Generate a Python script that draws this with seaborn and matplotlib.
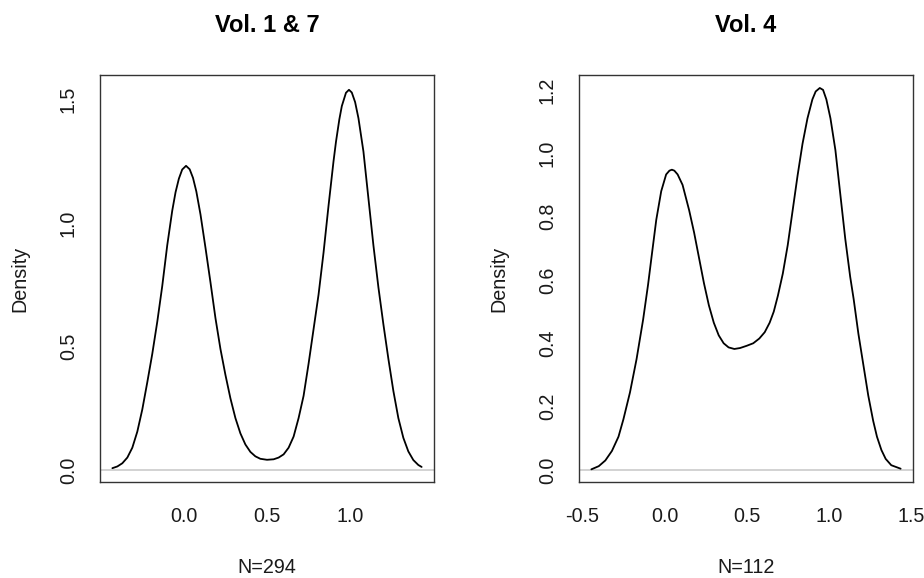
import matplotlib
matplotlib.use("Agg")
import matplotlib.pyplot as plt
import seaborn as sns

# ---- data (density curves) ----
left_title = "Vol. 1 & 7"
left_n = "N=294"
left_x = [-0.43, -0.40, -0.37, -0.34, -0.31, -0.28, -0.25, -0.22, -0.19, -0.16,
          -0.13, -0.10, -0.07, -0.05, -0.03, -0.01, 0.013, 0.035, 0.055, 0.075,
          0.10, 0.13, 0.16, 0.19, 0.22, 0.25, 0.28, 0.31, 0.34, 0.37,
          0.40, 0.43, 0.46, 0.50, 0.54, 0.57, 0.60, 0.63, 0.66, 0.69,
          0.72, 0.75, 0.78, 0.81, 0.84, 0.87, 0.90, 0.915, 0.935, 0.95,
          0.975, 0.993, 1.01, 1.03, 1.05, 1.08, 1.11, 1.14, 1.17, 1.20,
          1.23, 1.26, 1.29, 1.32, 1.35, 1.38, 1.41, 1.43]
left_y = [0.007, 0.014, 0.027, 0.05, 0.09, 0.155, 0.245, 0.355, 0.47, 0.60,
          0.745, 0.91, 1.05, 1.125, 1.18, 1.217, 1.232, 1.218, 1.183, 1.128,
          1.035, 0.90, 0.76, 0.615, 0.49, 0.385, 0.29, 0.21, 0.148, 0.103,
          0.073, 0.055, 0.045, 0.041, 0.043, 0.05, 0.063, 0.09, 0.135, 0.21,
          0.30, 0.43, 0.57, 0.71, 0.88, 1.07, 1.25, 1.33, 1.42, 1.474,
          1.528, 1.54, 1.529, 1.49, 1.425, 1.29, 1.10, 0.91, 0.74, 0.59,
          0.45, 0.32, 0.21, 0.13, 0.075, 0.04, 0.02, 0.012]
left_xticks = [0.0, 0.5, 1.0]
left_xticklabels = ["0.0", "0.5", "1.0"]
left_yticks = [0.0, 0.5, 1.0, 1.5]
left_yticklabels = ["0.0", "0.5", "1.0", "1.5"]
left_ylim = [-0.049, 1.60]

right_title = "Vol. 4"
right_n = "N=112"
right_x = [-0.445, -0.40, -0.36, -0.32, -0.28, -0.25, -0.21, -0.17, -0.13, -0.10,
           -0.077, -0.05, -0.02, 0.01, 0.03, 0.045, 0.06, 0.08, 0.11, 0.15,
           0.18, 0.21, 0.24, 0.27, 0.30, 0.33, 0.36, 0.39, 0.425, 0.46,
           0.50, 0.54, 0.577, 0.61, 0.64, 0.665, 0.69, 0.72, 0.75, 0.78,
           0.81, 0.84, 0.87, 0.90, 0.92, 0.945, 0.965, 0.985, 1.01, 1.04,
           1.07, 1.10, 1.13, 1.151, 1.18, 1.212, 1.24, 1.27, 1.293, 1.32,
           1.346, 1.38, 1.437]
right_y = [0.002, 0.012, 0.03, 0.06, 0.105, 0.16, 0.245, 0.35, 0.475, 0.585,
           0.68, 0.79, 0.88, 0.933, 0.945, 0.948, 0.945, 0.933, 0.90, 0.82,
           0.75, 0.67, 0.59, 0.52, 0.465, 0.425, 0.40, 0.387, 0.382, 0.385,
           0.392, 0.40, 0.415, 0.435, 0.465, 0.50, 0.55, 0.62, 0.71, 0.82,
           0.93, 1.03, 1.11, 1.17, 1.195, 1.206, 1.20, 1.17, 1.11, 1.01,
           0.87, 0.73, 0.61, 0.54, 0.43, 0.326, 0.235, 0.155, 0.105, 0.063,
           0.035, 0.015, 0.004]
right_xticks = [-0.5, 0.0, 0.5, 1.0, 1.5]
right_xticklabels = ["-0.5", "0.0", "0.5", "1.0", "1.5"]
right_yticks = [0.0, 0.2, 0.4, 0.6, 0.8, 1.0, 1.2]
right_yticklabels = ["0.0", "0.2", "0.4", "0.6", "0.8", "1.0", "1.2"]
right_ylim = [-0.038, 1.247]

sns.set_theme(style="white")
plt.rcParams['font.family'] = ['Liberation Sans', 'DejaVu Sans']

TXT = '#1a1a1a'
FS = 14.2


def density_panel(ax, xs, ys, title, nlabel, xticks, xticklabels,
                  yticks, yticklabels, ylim):
    ax.axhline(0, color='#cfcfcf', lw=1.3, zorder=1)
    sns.lineplot(x=xs, y=ys, ax=ax, color='black', lw=1.3, sort=False,
                 estimator=None, zorder=3)
    span = max(xs) - min(xs)
    ax.set_xlim(min(xs) - 0.04 * span, max(xs) + 0.04 * span)
    ax.set_ylim(ylim)

    ax.set_xticks(xticks, xticklabels)
    ax.set_yticks(yticks, yticklabels, rotation=90, va='center')
    ax.tick_params(axis='both', direction='out', length=8, width=1,
                   color='#333333', labelsize=FS, labelcolor=TXT)
    ax.tick_params(axis='x', pad=10)
    ax.tick_params(axis='y', pad=8)

    for sp in ax.spines.values():
        sp.set_visible(True)
        sp.set_color('#333333')
        sp.set_linewidth(1.0)

    ax.set_title(title, fontsize=17, fontweight='bold', color='black',
                 y=1.1204, pad=0, va='center')
    ax.set_xlabel(nlabel, fontsize=FS, color=TXT, va='center')
    ax.xaxis.set_label_coords(0.5, -0.211)
    ax.set_ylabel("Density", fontsize=FS, color=TXT, va='center')
    ax.yaxis.set_label_coords(-0.24, 0.5)
    ax.grid(False)


fig = plt.figure(figsize=(9.24, 5.78), dpi=100)
ax1 = fig.add_axes([100 / 924, 96 / 578, 334 / 924, 407 / 578])
ax2 = fig.add_axes([579 / 924, 96 / 578, 334 / 924, 407 / 578])

density_panel(ax1, left_x, left_y, left_title, left_n, left_xticks,
              left_xticklabels, left_yticks, left_yticklabels, left_ylim)
density_panel(ax2, right_x, right_y, right_title, right_n, right_xticks,
              right_xticklabels, right_yticks, right_yticklabels, right_ylim)

fig.savefig("out.png", dpi=100, facecolor='white')
plt.close(fig)
